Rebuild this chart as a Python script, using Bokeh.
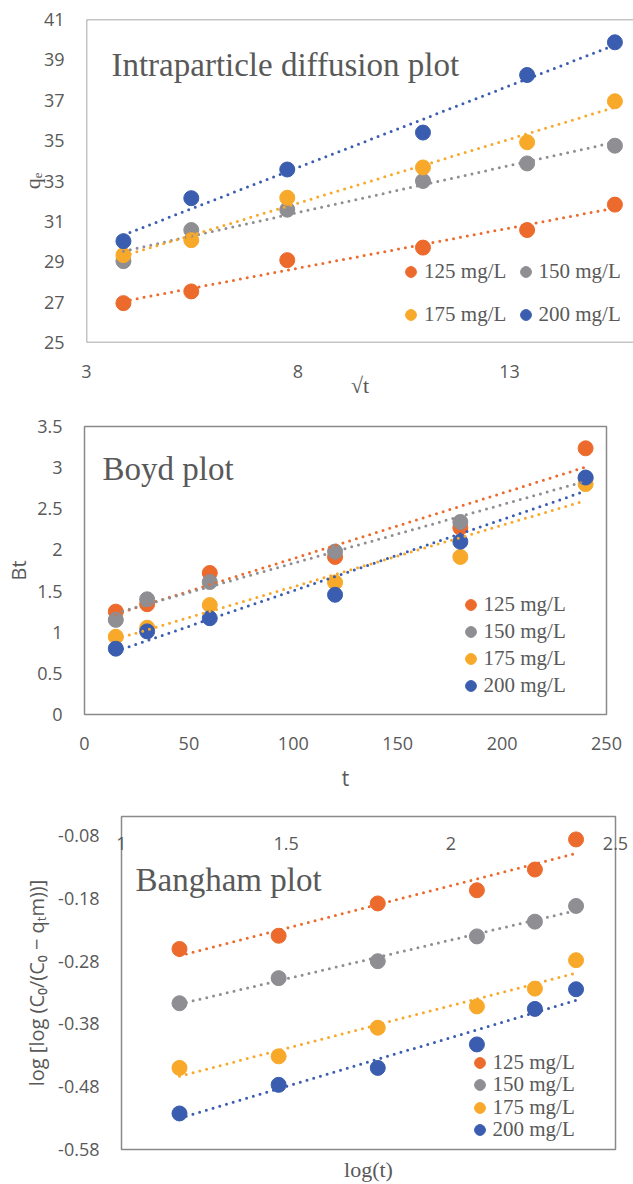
import numpy as np
from bokeh.plotting import figure
from bokeh.models import Legend, LegendItem, FixedTicker, Label, Range1d, Span, LinearAxis
from bokeh.embed import file_html
from bokeh.resources import INLINE

# ---------------- data ----------------
t_min = [15, 30, 60, 120, 180, 240]
series_names = ["125 mg/L", "150 mg/L", "175 mg/L", "200 mg/L"]
series_colors = ["#EC6A2C", "#8E8E93", "#F8A92A", "#3A5DAF"]

# Intraparticle diffusion: q_e vs sqrt(t)
intra_125 = [26.95, 27.53, 29.08, 29.70, 30.57, 31.83]
intra_150 = [29.03, 30.57, 31.58, 33.00, 33.87, 34.75]
intra_175 = [29.33, 30.07, 32.17, 33.67, 34.92, 36.95]
intra_200 = [30.02, 32.15, 33.57, 35.40, 38.25, 39.87]

# Boyd: Bt vs t
boyd_125 = [1.25, 1.34, 1.72, 1.915, 2.27, 3.235]
boyd_150 = [1.15, 1.40, 1.61, 1.98, 2.34, 2.87]
boyd_175 = [0.945, 1.055, 1.33, 1.605, 1.915, 2.80]
boyd_200 = [0.80, 1.01, 1.17, 1.455, 2.10, 2.88]

# Bangham: log[log(C0/(C0-qt m))] vs log(t)
bang_125 = [-0.2605, -0.2395, -0.188, -0.167, -0.134, -0.086]
bang_150 = [-0.347, -0.307, -0.280, -0.2405, -0.217, -0.192]
bang_175 = [-0.450, -0.4316, -0.386, -0.352, -0.3237, -0.2784]
bang_200 = [-0.5226, -0.477, -0.450, -0.4126, -0.356, -0.3247]

intra_x_ticks = [3, 8, 13]
intra_y_ticks = [25, 27, 29, 31, 33, 35, 37, 39, 41]
boyd_x_ticks = [0, 50, 100, 150, 200, 250]
boyd_y_ticks = [0, 0.5, 1, 1.5, 2, 2.5, 3, 3.5]
bang_x_ticks = [1, 1.5, 2, 2.5]
bang_y_ticks = [-0.58, -0.48, -0.38, -0.28, -0.18, -0.08]

sqrt_t = list(np.sqrt(t_min))
log_t = list(np.log10(t_min))

# ---------------- styling ----------------
TICK_FONT = "Open Sans"
SERIF = "Liberation Serif"
GRAY = "#595959"
FRAME = "#8A8A8A"
W = 633


def fmt(v):
    return f"{v:g}"


def style_axis(ax, ticks):
    ax.ticker = FixedTicker(ticks=ticks)
    ax.major_label_overrides = {t: fmt(t) for t in ticks}
    ax.axis_line_color = None
    ax.major_tick_line_color = None
    ax.minor_tick_line_color = None
    ax.major_tick_out = 0
    ax.major_tick_in = 0
    ax.minor_tick_out = 0
    ax.minor_tick_in = 0
    ax.major_label_text_font = TICK_FONT
    ax.major_label_text_font_size = "18px"
    ax.major_label_text_color = GRAY
    ax.axis_label_text_color = GRAY
    ax.axis_label_text_font_style = "normal"


def make_fig(height, xr, yr, left, right, top, bottom, xticks, yticks):
    p = figure(width=W, height=height, x_range=Range1d(*xr), y_range=Range1d(*yr),
               output_backend="svg", toolbar_location=None,
               min_border_left=left, min_border_right=right,
               min_border_top=top, min_border_bottom=bottom)
    p.xgrid.visible = False
    p.ygrid.visible = False
    p.outline_line_color = FRAME
    p.outline_line_width = 1.5
    p.background_fill_color = "white"
    p.border_fill_color = "white"
    style_axis(p.xaxis[0], xticks)
    style_axis(p.yaxis[0], yticks)
    p.yaxis[0].major_label_standoff = 22
    p.xaxis[0].major_label_standoff = 22
    return p


def add_series(p, x, ys):
    rends = []
    for name, color, y in zip(series_names, series_colors, ys):
        r = p.scatter(x, y, size=15, fill_color=color, line_color=color)
        rends.append(r)
    for color, y in zip(series_colors, ys):
        slope, icpt = np.polyfit(x, y, 1)
        xs = [min(x), max(x)]
        p.line(xs, [slope * v + icpt for v in xs], line_color=color, line_width=3,
               line_dash="0 7", line_cap="round")
    return rends


def add_legend_item(p, rend, name, xc, yc):
    # one legend per entry; (xc, yc) = marker centre in px from the frame's bottom-left
    g = 27
    lg = Legend(items=[LegendItem(label=name, renderers=[rend])],
                location=(xc - g / 2, yc - g / 2), orientation="vertical",
                glyph_width=g, glyph_height=g, spacing=0, label_standoff=0,
                padding=0, margin=0, border_line_color=None, background_fill_alpha=0,
                label_text_font=SERIF, label_text_font_size="21px",
                label_text_color=GRAY, label_height=g)
    p.add_layout(lg)


# ---------------- chart 1: intraparticle diffusion ----------------
x1_end = 3 + (W - 86) / 42.3
p1 = make_fig(402, (3, x1_end), (25, 41), 86, 0, 19, 60, intra_x_ticks, intra_y_ticks)
p1.outline_line_color = None
for loc, dim in ((41, "width"), (25, "width"), (3, "height")):
    p1.add_layout(Span(location=loc, dimension=dim, line_color=FRAME, line_width=1.5))
r1 = add_series(p1, sqrt_t, [intra_125, intra_150, intra_175, intra_200])
p1.xaxis.axis_label = "√t"
p1.xaxis.axis_label_text_font = SERIF
p1.xaxis.axis_label_text_font_size = "22px"
p1.xaxis.axis_label_standoff = -8
p1.yaxis.axis_label = "qₑ"
p1.yaxis.axis_label_text_font = SERIF
p1.yaxis.axis_label_text_font_size = "22px"
p1.yaxis.axis_label_standoff = -4
p1.add_layout(Label(x=3.59, y=38.77, text="Intraparticle diffusion plot", text_font=SERIF,
                    text_font_size="33px", text_color=GRAY, text_baseline="middle"))
for i, (xc, yc) in enumerate([(324.6, 70.4), (439, 70.4), (324.6, 28), (439, 28)]):
    add_legend_item(p1, r1[i], series_names[i], xc, yc)

# ---------------- chart 2: Boyd ----------------
p2 = make_fig(392, (0, 250), (0, 3.5), 84, 27, 24, 79, boyd_x_ticks, boyd_y_ticks)
r2 = add_series(p2, t_min, [boyd_125, boyd_150, boyd_175, boyd_200])
p2.xaxis.axis_label = "t"
p2.xaxis.axis_label_text_font = TICK_FONT
p2.xaxis.axis_label_text_font_size = "21px"
p2.xaxis.axis_label_standoff = 11
p2.yaxis.axis_label = "Bt"
p2.yaxis.axis_label_text_font = TICK_FONT
p2.yaxis.axis_label_text_font_size = "20px"
p2.yaxis.axis_label_standoff = 2
p2.add_layout(Label(x=8.6, y=2.98, text="Boyd plot", text_font=SERIF,
                    text_font_size="33px", text_color=GRAY, text_baseline="middle"))
for i, yc in enumerate([109.4, 82.5, 55.6, 28.7]):
    add_legend_item(p2, r2[i], series_names[i], 386, yc)

# ---------------- chart 3: Bangham ----------------
p3 = make_fig(390, (1, 2.5), (-0.58, -0.0495), 121, 18, 22, 33, [], bang_y_ticks)
r3 = add_series(p3, log_t, [bang_125, bang_150, bang_175, bang_200])
p3.xaxis.major_label_text_font_size = "0px"
p3.xaxis.major_label_standoff = 0
p3.xaxis.axis_label = "log(t)"
p3.xaxis.axis_label_text_font = SERIF
p3.xaxis.axis_label_text_font_size = "22px"
p3.xaxis.axis_label_standoff = 7
p3.yaxis.axis_label = "log [log (C₀/(C₀ − qₜm))]"
p3.yaxis.axis_label_text_font = TICK_FONT
p3.yaxis.axis_label_text_font_size = "20px"
p3.yaxis.axis_label_standoff = 5
# x tick labels sit inside the frame, just under its top edge (Excel axis crossing)
top_axis = LinearAxis()
style_axis(top_axis, bang_x_ticks)
top_axis.major_label_standoff = -33
p3.add_layout(top_axis, "above")
p3.add_layout(Label(x=1.0426, y=-0.1505, text="Bangham plot", text_font=SERIF,
                    text_font_size="33px", text_color=GRAY, text_baseline="middle"))
for i, yc in enumerate([87, 64.5, 42, 19.5]):
    add_legend_item(p3, r3[i], series_names[i], 358, yc)

open("out.html", "w").write(file_html([p1, p2, p3], INLINE))
